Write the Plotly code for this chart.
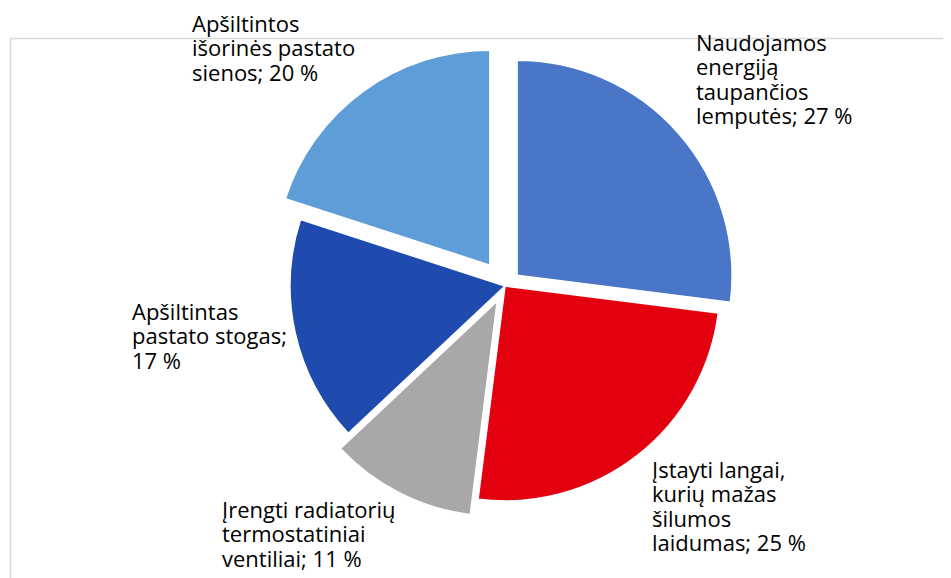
import plotly.graph_objects as go

W, H = 951, 578

labels = [
    "Naudojamos energiją taupančios lemputės",
    "Įstayti langai, kurių mažas šilumos laidumas",
    "Įrengti radiatorių termostatiniai ventiliai",
    "Apšiltintas pastato stogas",
    "Apšiltintos išorinės pastato sienos",
]
values = [27, 25, 11, 17, 20]
label_lines = [
    ["Naudojamos", "energiją", "taupančios", "lemputės; 27 %"],
    ["Įstayti langai,", "kurių mažas", "šilumos", "laidumas; 25 %"],
    ["Įrengti radiatorių", "termostatiniai", "ventiliai; 11 %"],
    ["Apšiltintas", "pastato stogas;", "17 %"],
    ["Apšiltintos", "išorinės pastato", "sienos; 20 %"],
]
colors = ["#4A76C8", "#E3000F", "#A8A8A8", "#1F4BAF", "#5F9DD8"]
pulls = [0.075, 0, 0.08, 0, 0.12]

# label first-baseline positions (left x, baseline y) in pixels
label_px = [(689, 52), (645, 478), (215, 518), (125, 320), (185, 32)]

cx, cy, r = 497, 278, 215
half = r * (1 + max(pulls))

fig = go.Figure()
fig.add_trace(go.Pie(
    labels=labels, values=values, sort=False, direction="clockwise", rotation=0,
    pull=pulls, textinfo="none", hoverinfo="label+percent",
    marker=dict(colors=colors, line=dict(color="white", width=1.5)),
    domain=dict(x=[(cx - half) / W, (cx + half) / W],
                y=[(H - cy - half) / H, (H - cy + half) / H]),
    showlegend=False,
))

line_step = 24.4
base_fs = line_step / 1.3   # plotly line spacing is 1.3 em of the annotation font
glyph_fs = 22
for lines, (px, py) in zip(label_lines, label_px):
    text = "<br>".join(f'<span style="font-size:{glyph_fs}px">{ln}</span>' for ln in lines)
    fig.add_annotation(
        x=px / W, y=1 - (py - 34.5) / H, xref="paper", yref="paper",
        xanchor="left", yanchor="top", align="left", showarrow=False,
        text=text, xshift=-3,
        font=dict(family="Open Sans, sans-serif", size=base_fs, color="#000000"),
    )

# thin chart-area frame (page body adds an 8px offset)
fig.add_shape(type="rect", xref="paper", yref="paper",
              x0=2.5 / W, x1=1.05, y0=-0.05, y1=1 - 30.5 / H,
              line=dict(color="#D9D9D9", width=1.5), fillcolor="rgba(0,0,0,0)", layer="below")

fig.update_layout(width=W, height=H, margin=dict(l=0, r=0, t=0, b=0),
                  paper_bgcolor="white", plot_bgcolor="white")
fig.write_html("out.html")
